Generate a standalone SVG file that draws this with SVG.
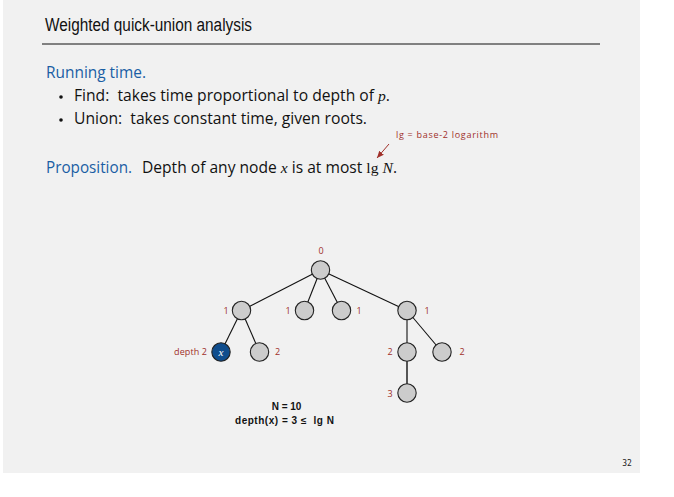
<svg xmlns="http://www.w3.org/2000/svg" width="674" height="497" viewBox="0 0 674 497">
<style>
text{white-space:pre}
.bg{fill:#f1f1f1}
.title{font-family:"Liberation Sans",Arial,sans-serif;font-size:18px;fill:#111}
.body{font-family:"Open Sans","Liberation Sans",sans-serif;font-size:15.5px;fill:#111}
.blue{fill:#1a5ea4}
.it{font-family:"Liberation Serif",serif;font-style:italic}
.serif{font-family:"Liberation Serif",serif}
.red{font-family:"Open Sans","Liberation Sans",sans-serif;font-size:9px;fill:#a0302a}
.node{fill:#cccccc;stroke:#222;stroke-width:1.1}
.xnode{fill:#0f4d8d;stroke:#222;stroke-width:1.1}
.edge{stroke:#111;stroke-width:1.1;fill:none}
.bold{font-family:"Liberation Sans",Arial,sans-serif;font-size:10px;font-weight:bold;fill:#111}
</style>
<defs>
<marker id="ah" markerWidth="8" markerHeight="8" refX="7" refY="4" orient="auto" markerUnits="userSpaceOnUse">
<path d="M0,1 L7,4 L0,7 Z" fill="#a0302a"/>
</marker>
</defs>
<rect class="bg" x="3" y="0" width="637" height="473"/>
<text class="title" x="45" y="31" textLength="207" lengthAdjust="spacingAndGlyphs">Weighted quick-union analysis</text>
<line x1="42" y1="44" x2="600" y2="44" stroke="#111" stroke-width="1"/>
<text class="body blue" x="46" y="78" textLength="100" lengthAdjust="spacingAndGlyphs">Running time.</text>
<circle cx="61" cy="97" r="1.8" fill="#111"/>
<text class="body" x="74" y="101" textLength="316" lengthAdjust="spacingAndGlyphs">Find:  takes time proportional to depth of <tspan class="it">p</tspan>.</text>
<circle cx="61" cy="120" r="1.8" fill="#111"/>
<text class="body" x="74" y="124" textLength="293" lengthAdjust="spacingAndGlyphs">Union:  takes constant time, given roots.</text>
<text class="red" x="396" y="138" textLength="102">lg = base-2 logarithm</text>
<line x1="389" y1="144" x2="377" y2="158" stroke="#a0302a" stroke-width="1" marker-end="url(#ah)"/>
<text class="body blue" x="46" y="173" textLength="86" lengthAdjust="spacingAndGlyphs">Proposition.</text>
<text class="body" x="142" y="173" textLength="255" lengthAdjust="spacingAndGlyphs">Depth of any node <tspan class="it">x</tspan> is at most <tspan class="serif">lg</tspan> <tspan class="it">N</tspan>.</text>
<g id="connectors">
<line class="edge" x1="320.5" y1="270" x2="241.5" y2="310.5"/>
<line class="edge" x1="320.5" y1="270" x2="304.5" y2="310.5"/>
<line class="edge" x1="320.5" y1="270" x2="341.5" y2="310.5"/>
<line class="edge" x1="320.5" y1="270" x2="407" y2="310.5"/>
<line class="edge" x1="241.5" y1="310.5" x2="221" y2="352"/>
<line class="edge" x1="241.5" y1="310.5" x2="259.5" y2="352"/>
<line class="edge" x1="407" y1="310.5" x2="407" y2="352"/>
<line class="edge" x1="407" y1="310.5" x2="442" y2="352"/>
<line x1="407" y1="352" x2="407" y2="393" stroke="#444" stroke-width="1.8"/>
</g>
<g id="n0"><circle class="node" cx="320.5" cy="270" r="9.2"/><text class="red" x="321" y="254" text-anchor="middle">0</text></g>
<g id="n1"><circle class="node" cx="241.5" cy="310.5" r="9.2"/><text class="red" x="226" y="314" text-anchor="middle">1</text></g>
<g id="n2"><circle class="node" cx="304.5" cy="310.5" r="9.2"/><text class="red" x="288" y="314" text-anchor="middle">1</text></g>
<g id="n3"><circle class="node" cx="341.5" cy="310.5" r="9.2"/><text class="red" x="359" y="314" text-anchor="middle">1</text></g>
<g id="n4"><circle class="node" cx="407" cy="310.5" r="9.2"/><text class="red" x="427" y="314" text-anchor="middle">1</text></g>
<g id="nx"><circle class="xnode" cx="221" cy="352" r="9.2"/><text x="221" y="355.5" text-anchor="middle" fill="#fff" font-family="Liberation Serif,serif" font-style="italic" font-size="11">x</text><text class="red" x="174" y="355" textLength="33">depth 2</text></g>
<g id="n5"><circle class="node" cx="259.5" cy="352" r="9.2"/><text class="red" x="277.5" y="355" text-anchor="middle">2</text></g>
<g id="n6"><circle class="node" cx="407" cy="352" r="9.2"/><text class="red" x="390" y="355" text-anchor="middle">2</text></g>
<g id="n7"><circle class="node" cx="442" cy="352" r="9.2"/><text class="red" x="462" y="355" text-anchor="middle">2</text></g>
<g id="n8"><circle class="node" cx="407" cy="393" r="9.2"/><text class="red" x="390" y="397" text-anchor="middle">3</text></g>
<text class="bold" x="286.5" y="410" text-anchor="middle">N = 10</text>
<text class="bold" x="235" y="424" textLength="99">depth(x) = 3 ≤  lg N</text>
<text x="627" y="466" text-anchor="middle" font-family="DejaVu Sans Mono,monospace" font-size="8" fill="#222">32</text>
</svg>
